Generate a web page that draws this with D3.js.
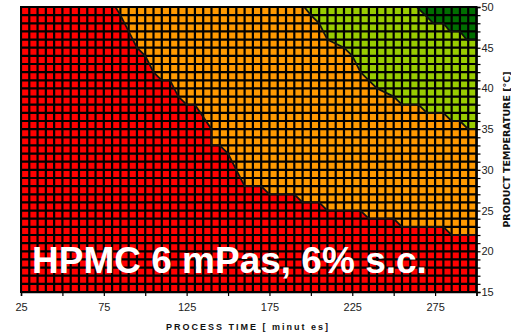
<!DOCTYPE html>
<html>
<head>
<meta charset="utf-8">
<script src="https://cdn.jsdelivr.net/npm/d3@7/dist/d3.min.js"></script>
<style>
    body { margin: 0; background: #fff; }
    svg { display: block; font-family: "Liberation Sans", Arial, sans-serif; }
</style>
</head>
<body>
<svg id="chart" width="511" height="335"></svg>
<script>
// process time [min] vs product temperature [°C], contour edges
const timeTicks = [25, 50, 75, 100, 125, 150, 175, 200, 225, 250, 275, 300]
const timeLabels = [25, 75, 125, 175, 225, 275]
const tempLabels = [15, 20, 25, 30, 35, 40, 45, 50]

const redOrangeEdge = [
    [82, 50], [85, 49], [90, 47], [95, 45], [100, 44], [105, 42], [110, 41], [115, 41],
    [120, 39], [125, 38], [130, 38], [140, 35], [140, 33], [145, 33], [150, 32], [155, 30],
    [160, 28], [170, 28], [175, 27], [190, 27], [195, 26], [205, 26], [210, 25], [230, 25],
    [235, 24], [250, 24], [255, 23], [280, 23], [285, 22], [300, 22],
]
const orangeGreenEdge = [
    [196, 50], [200, 49], [205, 48], [210, 46], [220, 45], [225, 44], [230, 42], [235, 41],
    [240, 40], [250, 39], [255, 38], [265, 38], [270, 37], [280, 37], [285, 36], [290, 36],
    [295, 35], [300, 35],
]
const greenDarkEdge = [
    [264, 50], [269, 49], [274, 48], [280, 48], [284, 47], [290, 47], [294, 46], [300, 46],
]

const zones = [
    { edge: redOrangeEdge, color: "#ff9900" },
    { edge: orangeGreenEdge, color: "#99cc00" },
    { edge: greenDarkEdge, color: "#006e00" },
]

const svg = d3.select("#chart")

const x = d3.scaleLinear().domain([25, 300]).range([21, 476.5])
const y = d3.scaleLinear().domain([15, 50]).range([292, 7])

svg.append("clipPath")
    .attr("id", "plot-clip")
    .append("rect")
    .attr("x", x(25))
    .attr("y", y(50))
    .attr("width", x(300) - x(25))
    .attr("height", y(15) - y(50))

const plot = svg.append("g").attr("clip-path", "url(#plot-clip)")

plot.append("rect")
    .attr("x", x(25))
    .attr("y", y(50))
    .attr("width", x(300) - x(25))
    .attr("height", y(15) - y(50))
    .attr("fill", "#ff0000")

const edgeLine = d3.line().x((d) => x(d[0])).y((d) => y(d[1]))

plot.selectAll("path.zone")
    .data(zones)
    .join("path")
    .attr("class", "zone")
    .attr("fill", (d) => d.color)
    .attr("d", (d) => edgeLine(d.edge.concat([[300, 50]])) + "Z")

// mesh of the underlying grid: 5 min by 1 °C
plot.append("g")
    .selectAll("line")
    .data(d3.range(25, 301, 5))
    .join("line")
    .attr("x1", (d) => x(d))
    .attr("x2", (d) => x(d))
    .attr("y1", y(50))
    .attr("y2", y(15))
    .attr("stroke", "#000")
    .attr("stroke-width", 2.2)

plot.append("g")
    .selectAll("line")
    .data(d3.range(15, 51, 1))
    .join("line")
    .attr("x1", x(25))
    .attr("x2", x(300))
    .attr("y1", (d) => y(d))
    .attr("y2", (d) => y(d))
    .attr("stroke", "#000")
    .attr("stroke-width", 2.2)

plot.selectAll("path.edge")
    .data(zones)
    .join("path")
    .attr("class", "edge")
    .attr("fill", "none")
    .attr("stroke", "#111")
    .attr("stroke-width", 1.8)
    .attr("d", (d) => edgeLine(d.edge))

// frame
svg.append("rect")
    .attr("x", x(25))
    .attr("y", y(50))
    .attr("width", x(300) - x(25))
    .attr("height", y(15) - y(50))
    .attr("fill", "none")
    .attr("stroke", "#000")
    .attr("stroke-width", 2)

const xAxis = svg.append("g")
    .attr("transform", `translate(0, ${y(15)})`)
    .call(
        d3.axisBottom(x)
            .tickValues(timeTicks)
            .tickSize(4)
            .tickPadding(7)
            .tickFormat((d) => (timeLabels.includes(d) ? d : ""))
    )

const yAxis = svg.append("g")
    .attr("transform", `translate(${x(300)}, 0)`)
    .call(
        d3.axisRight(y)
            .tickValues(d3.range(15, 51, 1))
            .tickSize(4)
            .tickPadding(1)
            .tickFormat((d) => (tempLabels.includes(d) ? d : ""))
    )

for (const axis of [xAxis, yAxis]) {
    axis.attr("font-family", null).attr("font-size", null)
    axis.select(".domain").attr("stroke", "#000").attr("stroke-width", 1.5)
    axis.selectAll(".tick line").attr("stroke", "#000").attr("stroke-width", 1.2)
    axis.selectAll(".tick text").attr("fill", "#222").style("font-size", "11px")
}

svg.append("text")
    .attr("x", 248)
    .attr("y", 330)
    .attr("text-anchor", "middle")
    .attr("font-size", 9)
    .attr("font-weight", "bold")
    .attr("letter-spacing", 2)
    .attr("fill", "#111")
    .text("PROCESS TIME [ minut es]")

svg.append("text")
    .attr("transform", `translate(509.5, ${(y(15) + y(50)) / 2}) rotate(-90)`)
    .attr("text-anchor", "middle")
    .attr("font-family", "'DejaVu Sans', sans-serif")
    .attr("font-size", 9.5)
    .attr("font-weight", "bold")
    .attr("fill", "#111")
    .text("PRODUCT TEMPERATURE [°C]")

svg.append("text")
    .attr("x", 32)
    .attr("y", 273)
    .attr("font-size", 37)
    .attr("font-weight", "bold")
    .attr("fill", "#fff")
    .text("HPMC 6 mPas, 6% s.c.")
</script>
</body>
</html>
